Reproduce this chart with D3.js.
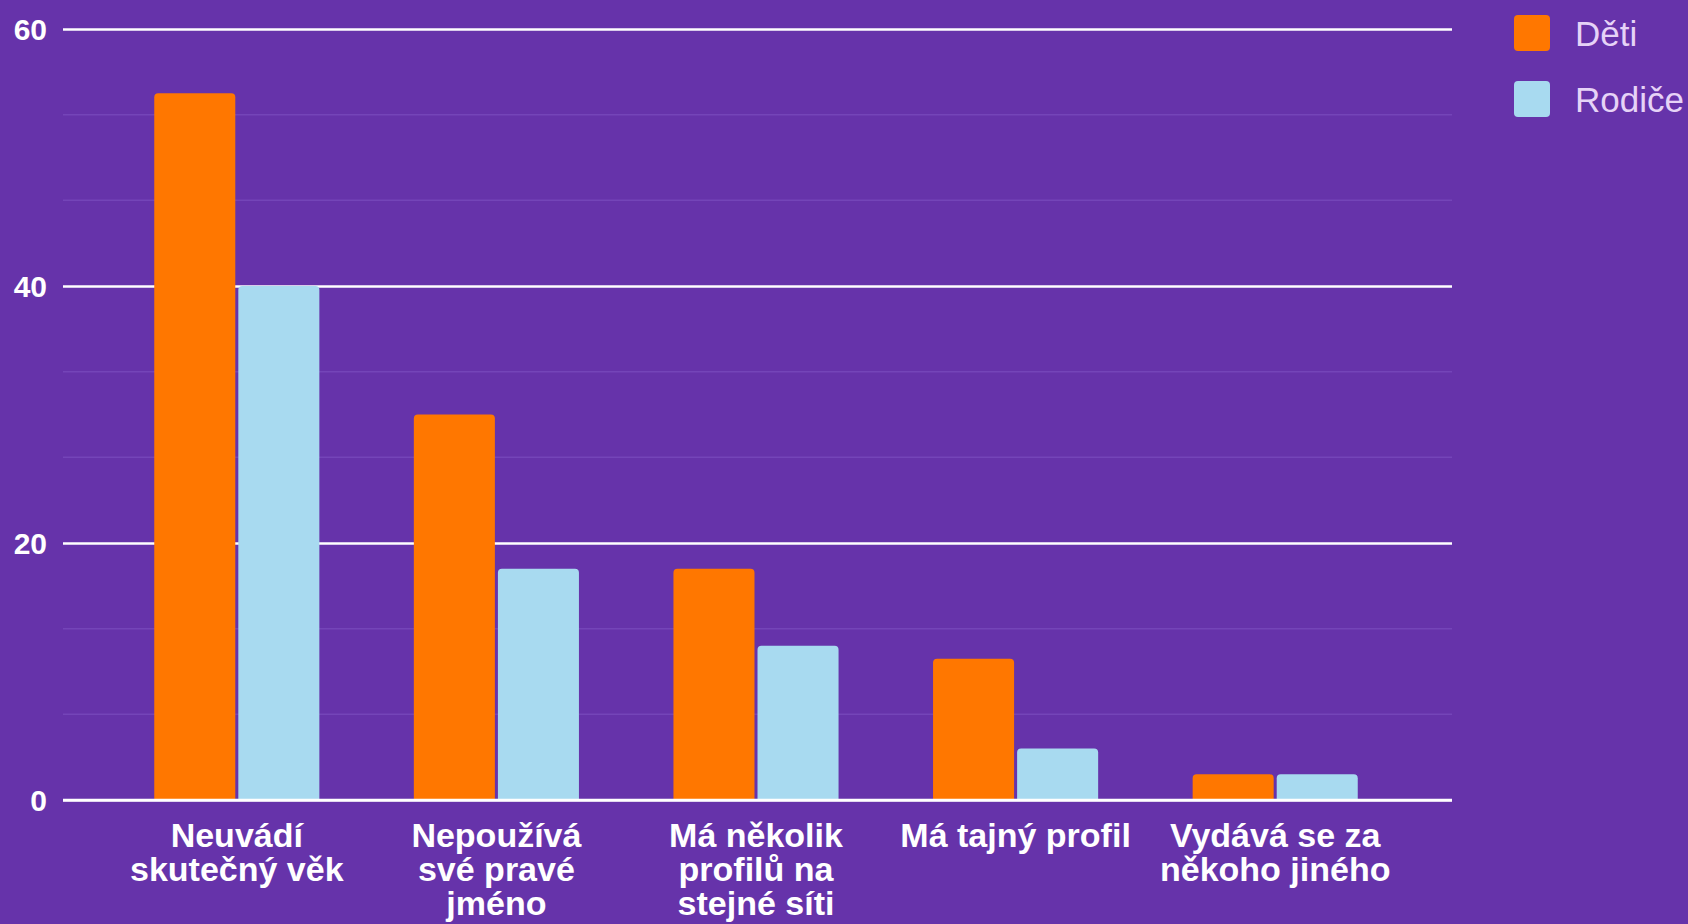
<!DOCTYPE html>
<html>
<head>
<meta charset="utf-8">
<script src="https://cdn.jsdelivr.net/npm/d3@7"></script>
<style>
  html, body { margin: 0; padding: 0; background: #6633aa; }
  svg { display: block; font-family: "Liberation Sans", Arial, sans-serif; }
</style>
</head>
<body>
<div id="chart"></div>
<script>
  // data
  var categories = ["Neuvádí\nskutečný věk", "Nepoužívá\nsvé pravé\njméno", "Má několik\nprofilů na\nstejné síti", "Má tajný profil", "Vydává se za\nněkoho jiného"];
  var seriesNames = ["Děti", "Rodiče"];
  var deti = [55, 30, 18, 11, 2];
  var rodice = [40, 18, 12, 4, 2];
  var yTicks = [0, 20, 40, 60];
  var colors = ["#ff7700", "#a8daf0"];

  var width = 1688, height = 924;
  var plot = {left: 63, right: 1452, top: 29, bottom: 800};

  var svg = d3.select("#chart").append("svg")
      .attr("width", width)
      .attr("height", height);

  svg.append("rect")
      .attr("width", width)
      .attr("height", height)
      .attr("fill", "#6633aa");

  var y = d3.scaleLinear()
      .domain([0, 60])
      .range([plot.bottom, plot.top]);

  var x0 = d3.scaleBand()
      .domain(categories)
      .range([107, 1405])
      .paddingInner(0.364)
      .paddingOuter(0.182);

  var x1 = d3.scaleBand()
      .domain(seriesNames)
      .range([0, x0.bandwidth()])
      .paddingInner(0.036);

  // minor gridlines
  var minor = d3.range(0, 60, 20 / 3).filter(function(v) { return v % 20 > 0.01; });
  svg.append("g").selectAll("line")
      .data(minor)
    .enter().append("line")
      .attr("x1", plot.left).attr("x2", plot.right)
      .attr("y1", function(d) { return y(d); })
      .attr("y2", function(d) { return y(d); })
      .attr("stroke", "#7445b8")
      .attr("stroke-width", 1.5);

  // major gridlines + labels
  var yAxis = svg.append("g")
      .attr("transform", "translate(" + plot.left + ",0)")
      .call(d3.axisLeft(y).tickValues(yTicks).tickSize(-(plot.right - plot.left)).tickPadding(16));
  yAxis.select(".domain").remove();
  yAxis.selectAll(".tick line")
      .attr("stroke", "#ffffff")
      .attr("stroke-width", 2.6);
  yAxis.selectAll(".tick text")
      .attr("fill", "#ffffff")
      .attr("font-size", "30px")
      .attr("font-weight", "bold")
      .attr("font-family", "'Liberation Sans', Arial, sans-serif")
      .attr("dy", "0.34em");

  var rows = categories.map(function(c, i) {
    return {cat: c, values: [deti[i], rodice[i]]};
  });

  function topRounded(x, yTop, w, h, r) {
    r = Math.min(r, h, w / 2);
    return "M" + x + "," + (yTop + h) +
      "V" + (yTop + r) +
      "Q" + x + "," + yTop + " " + (x + r) + "," + yTop +
      "H" + (x + w - r) +
      "Q" + (x + w) + "," + yTop + " " + (x + w) + "," + (yTop + r) +
      "V" + (yTop + h) + "Z";
  }

  var group = svg.append("g").selectAll("g")
      .data(rows)
    .enter().append("g")
      .attr("transform", function(d) { return "translate(" + x0(d.cat) + ",0)"; });

  group.selectAll("path")
      .data(function(d) { return d.values.map(function(v, j) { return {key: seriesNames[j], value: v, j: j}; }); })
    .enter().append("path")
      .attr("d", function(d) {
        return topRounded(x1(d.key), y(d.value), x1.bandwidth(), y(0) - y(d.value), 4);
      })
      .attr("fill", function(d) { return colors[d.j]; });

  // zero line on top of bars
  svg.append("line")
      .attr("x1", plot.left).attr("x2", plot.right)
      .attr("y1", y(0)).attr("y2", y(0))
      .attr("stroke", "#ffffff")
      .attr("stroke-width", 2.6);

  // category labels
  var labels = svg.append("g").selectAll("text")
      .data(categories)
    .enter().append("text")
      .attr("x", function(d) { return x0(d) + x0.bandwidth() / 2; })
      .attr("y", 847)
      .attr("text-anchor", "middle")
      .attr("fill", "#ffffff")
      .attr("font-size", "34px")
      .attr("font-weight", "bold");

  labels.selectAll("tspan")
      .data(function(d) { return d.split("\n"); })
    .enter().append("tspan")
      .attr("x", function() { var p = this.parentNode; return p.getAttribute("x"); })
      .attr("dy", function(d, i) { return i === 0 ? 0 : 34; })
      .text(function(d) { return d; });

  // legend
  var legend = svg.append("g").selectAll("g")
      .data(seriesNames)
    .enter().append("g")
      .attr("transform", function(d, i) { return "translate(1514," + (15 + i * 66) + ")"; });

  legend.append("rect")
      .attr("width", 36).attr("height", 36)
      .attr("rx", 4).attr("ry", 4)
      .attr("fill", function(d, i) { return colors[i]; });

  legend.append("text")
      .attr("x", 61)
      .attr("y", 18)
      .attr("dy", "0.36em")
      .attr("fill", "#e6d3f7")
      .attr("font-size", "35px")
      .text(function(d) { return d; });
</script>
</body>
</html>
